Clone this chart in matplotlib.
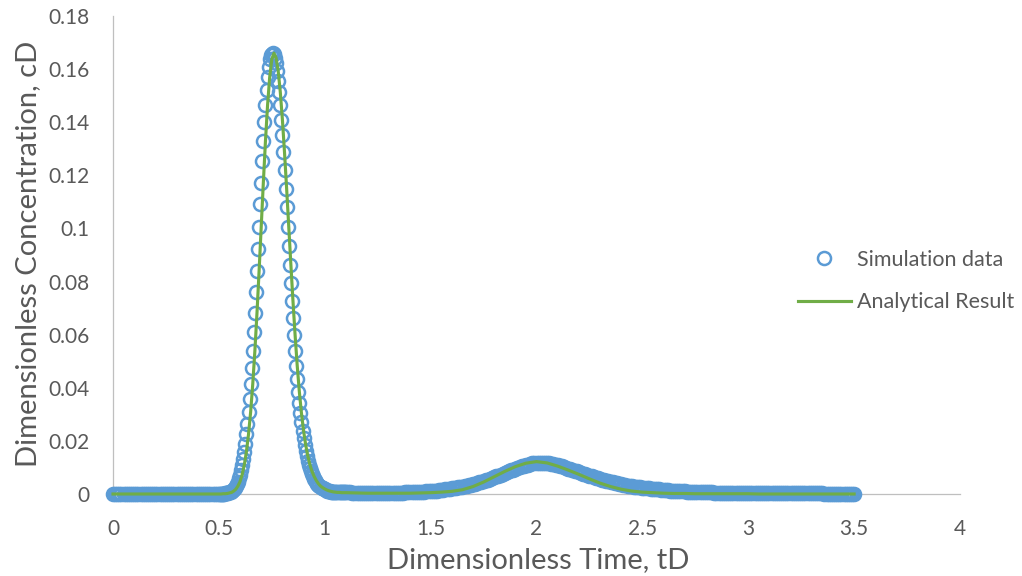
import numpy as np
import matplotlib
matplotlib.use("Agg")
import matplotlib.pyplot as plt
from matplotlib.ticker import FuncFormatter, MultipleLocator

plt.rcParams["font.family"] = ["Lato", "DejaVu Sans"]

TEXT = "#595959"
AXIS = "#BFBFBF"
BLUE = "#5B9BD5"
GREEN = "#70AD47"

# === simulation data ===
# flat start, tD = 0.00 .. 0.49 every 0.01
sim_t_start = np.linspace(0.0, 0.49, 50)
sim_c_start = [
    0.0, 0.0, 0.0, 0.0, 0.0, 0.0, 0.0, 0.0, 0.0, 0.0,
    0.0, 0.0, 0.0, 0.0, 0.0, 0.0, 0.0, 0.0, 0.0, 0.0,
    0.0, 0.0, 0.0, 0.0, 0.0, 0.0, 0.0, 0.0, 0.0, 0.0,
    0.0, 0.0, 0.0, 0.0, 0.0, 0.0, 0.0, 0.0, 0.0, 0.0,
    0.0, 0.0, 0.0, 0.0, 0.0, 0.0, 0.0, 0.0, 0.0, 0.0,
]

# first pulse, tD = 0.500 .. 1.100 every 0.005
sim_t_peak = np.linspace(0.5, 1.1, 121)
sim_c_peak = [
    0.0000, 0.0000, 0.0001, 0.0001, 0.0001, 0.0001, 0.0002, 0.0003, 0.0004, 0.0005,
    0.0006, 0.0008, 0.0011, 0.0014, 0.0018, 0.0024, 0.0030, 0.0038, 0.0047, 0.0059,
    0.0073, 0.0090, 0.0109, 0.0132, 0.0159, 0.0190, 0.0225, 0.0264, 0.0309, 0.0359,
    0.0414, 0.0474, 0.0539, 0.0609, 0.0682, 0.0760, 0.0841, 0.0923, 0.1007, 0.1091,
    0.1173, 0.1253, 0.1329, 0.1400, 0.1465, 0.1522, 0.1570, 0.1609, 0.1637, 0.1654,
    0.1658, 0.1660, 0.1656, 0.1643, 0.1622, 0.1594, 0.1557, 0.1514, 0.1465, 0.1410,
    0.1350, 0.1286, 0.1219, 0.1150, 0.1079, 0.1007, 0.0935, 0.0864, 0.0794, 0.0726,
    0.0661, 0.0598, 0.0538, 0.0483, 0.0432, 0.0385, 0.0343, 0.0304, 0.0270, 0.0238,
    0.0210, 0.0185, 0.0163, 0.0143, 0.0126, 0.0110, 0.0097, 0.0085, 0.0075, 0.0066,
    0.0058, 0.0051, 0.0045, 0.0039, 0.0034, 0.0030, 0.0027, 0.0024, 0.0021, 0.0019,
    0.0017, 0.0015, 0.0013, 0.0012, 0.0011, 0.0010, 0.0009, 0.0008, 0.0007, 0.0007,
    0.0007, 0.0007, 0.0006, 0.0006, 0.0006, 0.0006, 0.0006, 0.0006, 0.0006, 0.0006,
    0.0006,
]

# second pulse and tail, tD = 1.11 .. 3.50 every 0.01
sim_t_tail = np.linspace(1.11, 3.5, 240)
sim_c_tail = [
    0.0006, 0.0006, 0.0005, 0.0005, 0.0005, 0.0005, 0.0005, 0.0004, 0.0004, 0.0004,
    0.0004, 0.0004, 0.0004, 0.0004, 0.0004, 0.0004, 0.0004, 0.0004, 0.0004, 0.0004,
    0.0004, 0.0004, 0.0005, 0.0005, 0.0005, 0.0005, 0.0005, 0.0006, 0.0006, 0.0006,
    0.0006, 0.0007, 0.0007, 0.0008, 0.0008, 0.0009, 0.0009, 0.0010, 0.0010, 0.0011,
    0.0012, 0.0012, 0.0013, 0.0014, 0.0015, 0.0016, 0.0017, 0.0018, 0.0019, 0.0021,
    0.0022, 0.0023, 0.0025, 0.0026, 0.0028, 0.0030, 0.0031, 0.0033, 0.0035, 0.0037,
    0.0039, 0.0042, 0.0044, 0.0046, 0.0049, 0.0052, 0.0054, 0.0057, 0.0060, 0.0063,
    0.0066, 0.0069, 0.0073, 0.0076, 0.0079, 0.0082, 0.0085, 0.0089, 0.0092, 0.0095,
    0.0098, 0.0101, 0.0104, 0.0106, 0.0109, 0.0111, 0.0113, 0.0115, 0.0116, 0.0117,
    0.0117, 0.0118, 0.0117, 0.0117, 0.0116, 0.0115, 0.0114, 0.0112, 0.0110, 0.0108,
    0.0106, 0.0104, 0.0102, 0.0099, 0.0096, 0.0093, 0.0091, 0.0088, 0.0085, 0.0082,
    0.0079, 0.0077, 0.0074, 0.0071, 0.0069, 0.0066, 0.0064, 0.0061, 0.0059, 0.0057,
    0.0054, 0.0052, 0.0050, 0.0048, 0.0046, 0.0044, 0.0042, 0.0040, 0.0038, 0.0037,
    0.0035, 0.0034, 0.0032, 0.0031, 0.0030, 0.0028, 0.0027, 0.0026, 0.0025, 0.0024,
    0.0023, 0.0022, 0.0021, 0.0020, 0.0019, 0.0018, 0.0018, 0.0017, 0.0016, 0.0015,
    0.0015, 0.0014, 0.0013, 0.0013, 0.0012, 0.0012, 0.0011, 0.0011, 0.0010, 0.0010,
    0.0009, 0.0009, 0.0009, 0.0008, 0.0008, 0.0008, 0.0007, 0.0007, 0.0007, 0.0006,
    0.0006, 0.0006, 0.0006, 0.0005, 0.0005, 0.0005, 0.0005, 0.0004, 0.0004, 0.0004,
    0.0004, 0.0004, 0.0003, 0.0003, 0.0003, 0.0003, 0.0003, 0.0003, 0.0003, 0.0003,
    0.0003, 0.0003, 0.0002, 0.0002, 0.0002, 0.0002, 0.0002, 0.0002, 0.0002, 0.0002,
    0.0002, 0.0002, 0.0002, 0.0002, 0.0002, 0.0002, 0.0002, 0.0002, 0.0002, 0.0002,
    0.0002, 0.0002, 0.0002, 0.0002, 0.0002, 0.0002, 0.0002, 0.0002, 0.0002, 0.0002,
    0.0002, 0.0002, 0.0002, 0.0002, 0.0002, 0.0001, 0.0001, 0.0001, 0.0001, 0.0001,
    0.0001, 0.0001, 0.0001, 0.0001, 0.0001, 0.0001, 0.0001, 0.0001, 0.0001, 0.0001,
]

# === analytical solution ===
ana_t_start = np.linspace(0.0, 0.5, 6)
ana_c_start = [0.0, 0.0, 0.0, 0.0, 0.0, 0.0]

ana_t_peak = np.linspace(0.51, 1.10, 60)
ana_c_peak = [
    0.0000, 0.0001, 0.0001, 0.0002, 0.0004, 0.0006, 0.0011, 0.0018, 0.0030, 0.0047,
    0.0073, 0.0109, 0.0159, 0.0225, 0.0309, 0.0414, 0.0539, 0.0682, 0.0841, 0.1007,
    0.1173, 0.1329, 0.1465, 0.1570, 0.1637, 0.1660, 0.1643, 0.1594, 0.1514, 0.1410,
    0.1286, 0.1150, 0.1007, 0.0864, 0.0726, 0.0598, 0.0483, 0.0385, 0.0304, 0.0238,
    0.0185, 0.0143, 0.0110, 0.0085, 0.0066, 0.0051, 0.0039, 0.0030, 0.0024, 0.0019,
    0.0015, 0.0012, 0.0010, 0.0008, 0.0007, 0.0006, 0.0006, 0.0005, 0.0005, 0.0005,
]

ana_t_tail = np.linspace(1.15, 3.5, 48)
ana_c_tail = [
    0.0004, 0.0003, 0.0003, 0.0003, 0.0003, 0.0003, 0.0004, 0.0005, 0.0007, 0.0010,
    0.0016, 0.0028, 0.0045, 0.0065, 0.0085, 0.0103, 0.0116, 0.0122, 0.0117, 0.0105,
    0.0090, 0.0074, 0.0057, 0.0041, 0.0028, 0.0018, 0.0011, 0.0007, 0.0005, 0.0003,
    0.0002, 0.0002, 0.0001, 0.0001, 0.0001, 0.0001, 0.0001, 0.0001, 0.0000, 0.0000,
    0.0000, 0.0000, 0.0000, 0.0000, 0.0000, 0.0000, 0.0000, 0.0000,
]

sim_t = np.concatenate([sim_t_start, sim_t_peak, sim_t_tail])
sim_c = np.concatenate([sim_c_start, sim_c_peak, sim_c_tail])
ana_t = np.concatenate([ana_t_start, ana_t_peak, ana_t_tail])
ana_c = np.concatenate([ana_c_start, ana_c_peak, ana_c_tail])

W, H = 1022, 576
fig = plt.figure(figsize=(W / 100, H / 100), dpi=100)
ax = fig.add_axes([113 / W, 82 / H, 847 / W, 478 / H])

ax.plot(sim_t, sim_c, linestyle="none", marker="o", ms=9.4, mew=1.8,
        mfc="none", mec=BLUE, clip_on=False, zorder=2, label="Simulation data")
ax.plot(ana_t, ana_c, color=GREEN, lw=2.25, clip_on=False, zorder=3,
        label="Analytical Result")

ax.set_xlim(0, 4)
ax.set_ylim(0, 0.18)
ax.xaxis.set_major_locator(MultipleLocator(0.5))
ax.yaxis.set_major_locator(MultipleLocator(0.02))
fmt = FuncFormatter(lambda v, pos: f"{round(v, 3):g}")
ax.xaxis.set_major_formatter(fmt)
ax.yaxis.set_major_formatter(fmt)

for side in ["top", "right"]:
    ax.spines[side].set_visible(False)
for side in ["left", "bottom"]:
    ax.spines[side].set_color(AXIS)
    ax.spines[side].set_linewidth(0.9)
    ax.spines[side].set_zorder(1)

ax.tick_params(length=0, labelsize=15, labelcolor=TEXT)
ax.tick_params(axis="y", pad=17)
ax.tick_params(axis="x", pad=18)

leg = ax.legend(loc="center left", bbox_to_anchor=(798 / W, 1 - 281 / H),
                bbox_transform=fig.transFigure, frameon=False, fontsize=15.5,
                handlelength=2.45, handletextpad=0.3, labelspacing=1.05,
                borderpad=0, borderaxespad=0)
for txt in leg.get_texts():
    txt.set_color(TEXT)

fig.text(538 / W, 1 - 568 / H, "Dimensionless Time, tD", ha="center",
         va="baseline", fontsize=21, color=TEXT)
fig.text(36 / W, 1 - 254 / H, "Dimensionless Concentration, cD", rotation=90,
         rotation_mode="anchor", ha="center", va="baseline", fontsize=21,
         color=TEXT)

fig.savefig("out.png", dpi=100)
